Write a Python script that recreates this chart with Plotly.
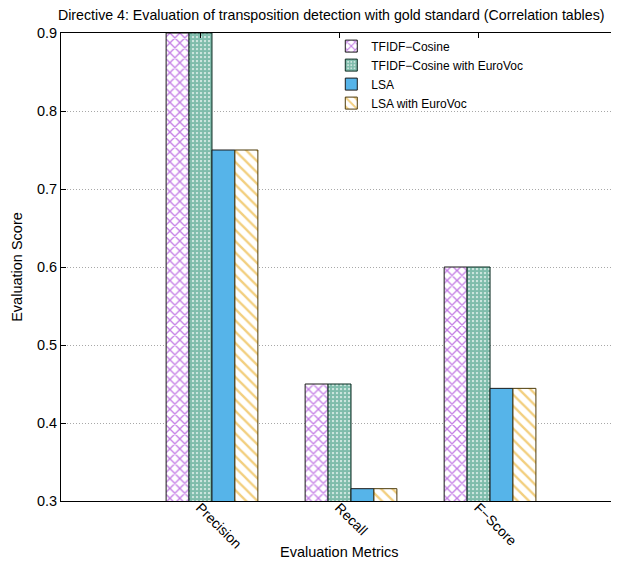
import plotly.graph_objects as go

metrics = ["Precision", "Recall", "F\u2212Score"]
series_names = ["TFIDF\u2212Cosine", "TFIDF\u2212Cosine with EuroVoc", "LSA", "LSA with EuroVoc"]
tfidf_cosine = [0.9, 0.45, 0.6]
tfidf_cosine_eurovoc = [0.9, 0.45, 0.6]
lsa = [0.75, 0.3158, 0.4444]
lsa_eurovoc = [0.75, 0.3158, 0.4444]
y_ticks = [0.3, 0.4, 0.5, 0.6, 0.7, 0.8, 0.9]

FONT = "Liberation Sans, Arial, Helvetica, sans-serif"
x_idx = list(range(len(metrics)))
tick_shift = -0.086
tick_pos = [i + tick_shift for i in x_idx]

styles = [
    dict(shape="x", fgcolor="#8a00cc", bgcolor="white", size=7, solidity=0.35, line="#1a1a1a"),
    dict(shape=".", fgcolor="#007a58", bgcolor="white", size=4, solidity=0.8, line="#0b2a20"),
    dict(shape="", fgcolor="#56b4e9", bgcolor="#56b4e9", size=8, solidity=0.2, line="#1a1a1a"),
    dict(shape="\\", fgcolor="#e69f00", bgcolor="white", size=8, solidity=0.3, line="#4d3a08"),
]
values = [tfidf_cosine, tfidf_cosine_eurovoc, lsa, lsa_eurovoc]

fig = go.Figure()
for name, vals, st in zip(series_names, values, styles):
    if st["shape"]:
        marker = dict(
            color="white",
            pattern=dict(shape=st["shape"], fgcolor=st["fgcolor"], bgcolor=st["bgcolor"],
                         size=st["size"], solidity=st["solidity"], fillmode="overlay"),
            line=dict(color=st["line"], width=1),
        )
    else:
        marker = dict(color=st["fgcolor"], line=dict(color=st["line"], width=1))
    fig.add_trace(go.Bar(x=x_idx, y=vals, name=name, marker=marker))

# invisible trace to host mirrored top ticks
fig.add_trace(go.Scatter(x=tick_pos, y=[None] * len(tick_pos), xaxis="x2",
                         showlegend=False, hoverinfo="skip"))

xrange = [-1.086, 2.906]
fig.update_layout(
    width=611, height=558,
    margin=dict(l=53, r=3, t=25, b=65, autoexpand=False),
    paper_bgcolor="white", plot_bgcolor="white",
    font=dict(family=FONT, size=14, color="black"),
    barmode="group", bargap=0.34, bargroupgap=0,
    title=dict(text="Directive 4: Evaluation of transposition detection with gold standard (Correlation tables)",
               x=0.529, xref="container", xanchor="center", y=0.987, yref="container", yanchor="middle",
               font=dict(size=14.2, family=FONT)),
    xaxis=dict(range=xrange, tickvals=tick_pos, ticktext=metrics, tickangle=45, automargin=False,
               ticks="", showline=True, linecolor="black", linewidth=1, mirror=True,
               ticklabelstandoff=-8,
               showgrid=False, zeroline=False, tickfont=dict(size=14)),
    xaxis2=dict(range=xrange, overlaying="x", side="top", tickvals=tick_pos, automargin=False,
                showticklabels=False, ticks="inside", ticklen=5, tickcolor="black",
                showgrid=False, zeroline=False, showline=False),
    yaxis=dict(range=[0.3, 0.9], tickvals=y_ticks, ticktext=[f"{v:.1f}" for v in y_ticks],
               ticks="inside", ticklen=5, tickcolor="black", showline=True, linecolor="black",
               linewidth=1, mirror="ticks", showgrid=True, gridcolor="#a8a8a8", griddash="1px,2px",
               gridwidth=1, zeroline=False, tickfont=dict(size=14.5), automargin=False,
               title=dict(text="Evaluation Score", font=dict(size=14.5), standoff=10)),
    legend=dict(x=0.487, y=1.003, xanchor="left", yanchor="top", bgcolor="rgba(0,0,0,0)",
                font=dict(size=12, family=FONT), tracegroupgap=0, itemwidth=30),
    annotations=[dict(text="Evaluation Metrics", xref="paper", yref="paper", x=0.5, y=-0.109,
                      xanchor="center", yanchor="middle", showarrow=False, font=dict(size=14.5))],
)

fig.write_html("out.html")
